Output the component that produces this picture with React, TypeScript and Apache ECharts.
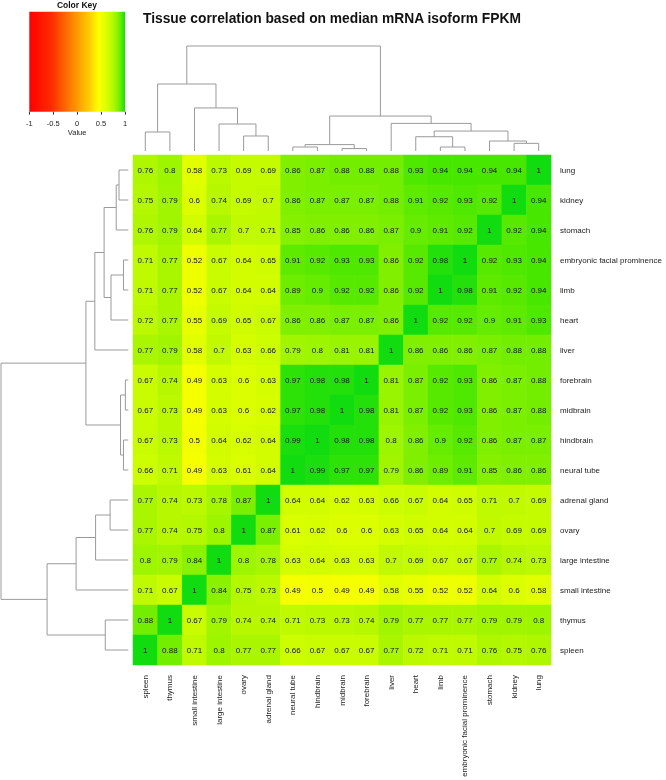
import React, { useEffect, useRef } from "react";
import * as echarts from "echarts";

const colLabels = [
  "spleen", "thymus", "small intestine", "large intestine", "ovary", "adrenal gland",
  "neural tube", "hindbrain", "midbrain", "forebrain", "liver", "heart", "limb",
  "embryonic facial prominence", "stomach", "kidney", "lung",
];
const rowLabels = [...colLabels].reverse();

// rows (top to bottom), values in column order
const lung = [0.76, 0.8, 0.58, 0.73, 0.69, 0.69, 0.86, 0.87, 0.88, 0.88, 0.88, 0.93, 0.94, 0.94, 0.94, 0.94, 1];
const kidney = [0.75, 0.79, 0.6, 0.74, 0.69, 0.7, 0.86, 0.87, 0.87, 0.87, 0.88, 0.91, 0.92, 0.93, 0.92, 1, 0.94];
const stomach = [0.76, 0.79, 0.64, 0.77, 0.7, 0.71, 0.85, 0.86, 0.86, 0.86, 0.87, 0.9, 0.91, 0.92, 1, 0.92, 0.94];
const facial = [0.71, 0.77, 0.52, 0.67, 0.64, 0.65, 0.91, 0.92, 0.93, 0.93, 0.86, 0.92, 0.98, 1, 0.92, 0.93, 0.94];
const limb = [0.71, 0.77, 0.52, 0.67, 0.64, 0.64, 0.89, 0.9, 0.92, 0.92, 0.86, 0.92, 1, 0.98, 0.91, 0.92, 0.94];
const heart = [0.72, 0.77, 0.55, 0.69, 0.65, 0.67, 0.86, 0.86, 0.87, 0.87, 0.86, 1, 0.92, 0.92, 0.9, 0.91, 0.93];
const liver = [0.77, 0.79, 0.58, 0.7, 0.63, 0.66, 0.79, 0.8, 0.81, 0.81, 1, 0.86, 0.86, 0.86, 0.87, 0.88, 0.88];
const forebrain = [0.67, 0.74, 0.49, 0.63, 0.6, 0.63, 0.97, 0.98, 0.98, 1, 0.81, 0.87, 0.92, 0.93, 0.86, 0.87, 0.88];
const midbrain = [0.67, 0.73, 0.49, 0.63, 0.6, 0.62, 0.97, 0.98, 1, 0.98, 0.81, 0.87, 0.92, 0.93, 0.86, 0.87, 0.88];
const hindbrain = [0.67, 0.73, 0.5, 0.64, 0.62, 0.64, 0.99, 1, 0.98, 0.98, 0.8, 0.86, 0.9, 0.92, 0.86, 0.87, 0.87];
const neuralTube = [0.66, 0.71, 0.49, 0.63, 0.61, 0.64, 1, 0.99, 0.97, 0.97, 0.79, 0.86, 0.89, 0.91, 0.85, 0.86, 0.86];
const adrenalGland = [0.77, 0.74, 0.73, 0.78, 0.87, 1, 0.64, 0.64, 0.62, 0.63, 0.66, 0.67, 0.64, 0.65, 0.71, 0.7, 0.69];
const ovary = [0.77, 0.74, 0.75, 0.8, 1, 0.87, 0.61, 0.62, 0.6, 0.6, 0.63, 0.65, 0.64, 0.64, 0.7, 0.69, 0.69];
const largeIntestine = [0.8, 0.79, 0.84, 1, 0.8, 0.78, 0.63, 0.64, 0.63, 0.63, 0.7, 0.69, 0.67, 0.67, 0.77, 0.74, 0.73];
const smallIntestine = [0.71, 0.67, 1, 0.84, 0.75, 0.73, 0.49, 0.5, 0.49, 0.49, 0.58, 0.55, 0.52, 0.52, 0.64, 0.6, 0.58];
const thymus = [0.88, 1, 0.67, 0.79, 0.74, 0.74, 0.71, 0.73, 0.73, 0.74, 0.79, 0.77, 0.77, 0.77, 0.79, 0.79, 0.8];
const spleen = [1, 0.88, 0.71, 0.8, 0.77, 0.77, 0.66, 0.67, 0.67, 0.67, 0.77, 0.72, 0.71, 0.71, 0.76, 0.75, 0.76];

const rowValues = [
  lung, kidney, stomach, facial, limb, heart, liver, forebrain, midbrain, hindbrain,
  neuralTube, adrenalGland, ovary, largeIntestine, smallIntestine, thymus, spleen,
];

// dendrogram: leaves are column indices, [left, right, mergeHeight]
type Node = number | [Node, Node, number];
const tree: Node = [
  [[0, 1, 0.181], [2, [3, [4, 5, 0.143], 0.257], 0.41], 0.638],
  [
    [[6, 7, 0.038], [8, 9, 0.023], 0.061],
    [10, [[11, [12, 13, 0.038], 0.136], [14, [15, 16, 0.073], 0.095], 0.19], 0.263],
    0.333,
  ],
  1.0,
];

const keyStops: [number, string][] = [
  [-1.0, "#ff0000"],
  [-0.55, "#ff2a00"],
  [0.0, "#ff9900"],
  [0.25, "#ffcc00"],
  [0.45, "#ffff00"],
  [0.6, "#dcff00"],
  [0.75, "#b4f800"],
  [0.87, "#7cf000"],
  [0.95, "#40e600"],
  [1.0, "#10dc10"],
];

function hex(c: string) {
  return [parseInt(c.slice(1, 3), 16), parseInt(c.slice(3, 5), 16), parseInt(c.slice(5, 7), 16)];
}
function colorAt(v: number) {
  for (let i = 0; i < keyStops.length - 1; i++) {
    const [a, ca] = keyStops[i];
    const [b, cb] = keyStops[i + 1];
    if (v >= a && v <= b) {
      const t = (v - a) / (b - a);
      const A = hex(ca), B = hex(cb);
      const m = A.map((x, k) => Math.round(x + (B[k] - x) * t));
      return `rgb(${m[0]},${m[1]},${m[2]})`;
    }
  }
  return keyStops[keyStops.length - 1][1];
}
const ramp = Array.from({ length: 81 }, (_, i) => colorAt(-1 + i * 0.025));

function layout(node: Node, out: number[][]): { x: number; h: number } {
  if (typeof node === "number") return { x: node + 0.5, h: 0 };
  const a = layout(node[0], out);
  const b = layout(node[1], out);
  out.push([a.x, a.h, b.x, b.h, node[2]]);
  return { x: (a.x + b.x) / 2, h: node[2] };
}

const FONT = "'Liberation Sans', Arial, sans-serif";

export default function App() {
  const ref = useRef<HTMLDivElement>(null);
  useEffect(() => {
    if (!ref.current) return;
    const chart = echarts.init(ref.current, undefined, { renderer: "svg" });
    const segs: number[][] = [];
    layout(tree, segs);

    const heatData: number[][] = [];
    rowValues.forEach((row, r) => row.forEach((v, c) => heatData.push([c, r, v])));

    const lineStyle = { stroke: "#9a9a9a", lineWidth: 1, fill: "none" };

    chart.setOption({
      animation: false,
      textStyle: { fontFamily: FONT },
      grid: [
        { left: 133, top: 155, width: 418, height: 510 },
        { left: 133, top: 46, width: 418, height: 105 },
        { left: 1, top: 155, width: 127.3, height: 510 },
        { left: 29.3, top: 11.7, width: 95.7, height: 100 },
      ],
      xAxis: [
        {
          gridIndex: 0, type: "category", data: colLabels, position: "bottom",
          axisLine: { show: false }, axisTick: { show: false }, splitLine: { show: false },
          axisLabel: { rotate: 90, interval: 0, fontSize: 8, margin: 10, color: "#222", fontFamily: FONT },
        },
        { gridIndex: 1, type: "value", min: 0, max: 17, show: false },
        { gridIndex: 2, type: "value", min: 0, max: 1, inverse: true, show: false },
        {
          gridIndex: 3, type: "value", min: -1, max: 1, interval: 0.5,
          axisLine: { show: false },
          axisTick: { show: true, length: 3, lineStyle: { color: "#333" } },
          splitLine: { show: false },
          axisLabel: { fontSize: 7.5, margin: 8, color: "#222", fontFamily: FONT },
          name: "Value", nameLocation: "middle", nameGap: 17,
          nameTextStyle: { fontSize: 7.5, color: "#222", fontFamily: FONT },
        },
      ],
      yAxis: [
        {
          gridIndex: 0, type: "category", data: rowLabels, inverse: true, position: "right",
          axisLine: { show: false }, axisTick: { show: false }, splitLine: { show: false },
          axisLabel: { interval: 0, fontSize: 8, margin: 9, color: "#222", fontFamily: FONT },
        },
        { gridIndex: 1, type: "value", min: 0, max: 1, show: false },
        { gridIndex: 2, type: "value", min: 0, max: 17, show: false },
        { gridIndex: 3, type: "value", min: 0, max: 1, show: false },
      ],
      visualMap: {
        show: false, type: "continuous", min: -1, max: 1, dimension: 2, seriesIndex: 0,
        inRange: { color: ramp },
      },
      graphic: [
        {
          type: "text", left: 143, top: 11,
          style: { text: "Tissue correlation based on median mRNA isoform FPKM", fontSize: 13.8, fontWeight: "bold", fill: "#111", font: `bold 13.8px ${FONT}` },
        },
        {
          type: "text", x: 77, y: 5,
          style: { text: "Color Key", fontSize: 8.5, fontWeight: "bold", fill: "#111", align: "center", verticalAlign: "middle", font: `bold 8.5px ${FONT}` },
        },
      ],
      series: [
        {
          type: "heatmap", xAxisIndex: 0, yAxisIndex: 0, data: heatData,
          label: { show: true, fontSize: 8, color: "#111", fontFamily: FONT, formatter: (p: any) => String(p.value[2]) },
          emphasis: { disabled: true },
          itemStyle: { borderWidth: 0 },
        },
        {
          type: "custom", xAxisIndex: 1, yAxisIndex: 1, data: segs, clip: false, silent: true,
          renderItem: (_p: any, api: any) => {
            const p0 = api.coord([api.value(0), api.value(1)]);
            const p1 = api.coord([api.value(0), api.value(4)]);
            const p2 = api.coord([api.value(2), api.value(4)]);
            const p3 = api.coord([api.value(2), api.value(3)]);
            return { type: "polyline", shape: { points: [p0, p1, p2, p3] }, style: lineStyle };
          },
        },
        {
          type: "custom", xAxisIndex: 2, yAxisIndex: 2, data: segs, clip: false, silent: true,
          renderItem: (_p: any, api: any) => {
            const p0 = api.coord([api.value(1), api.value(0)]);
            const p1 = api.coord([api.value(4), api.value(0)]);
            const p2 = api.coord([api.value(4), api.value(2)]);
            const p3 = api.coord([api.value(3), api.value(2)]);
            return { type: "polyline", shape: { points: [p0, p1, p2, p3] }, style: lineStyle };
          },
        },
        {
          type: "custom", xAxisIndex: 3, yAxisIndex: 3, data: [[-1, 1]], clip: false, silent: true,
          renderItem: (_p: any, api: any) => {
            const a = api.coord([-1, 0]);
            const b = api.coord([1, 1]);
            return {
              type: "rect",
              shape: { x: a[0], y: b[1], width: b[0] - a[0], height: a[1] - b[1] },
              style: {
                fill: new echarts.graphic.LinearGradient(0, 0, 1, 0,
                  keyStops.map(([v, c]) => ({ offset: (v + 1) / 2, color: c }))),
              },
            };
          },
        },
      ],
    });
    return () => chart.dispose();
  }, []);
  return <div ref={ref} style={{ position: "fixed", left: 0, top: 0, width: 666, height: 780 }} />;
}
